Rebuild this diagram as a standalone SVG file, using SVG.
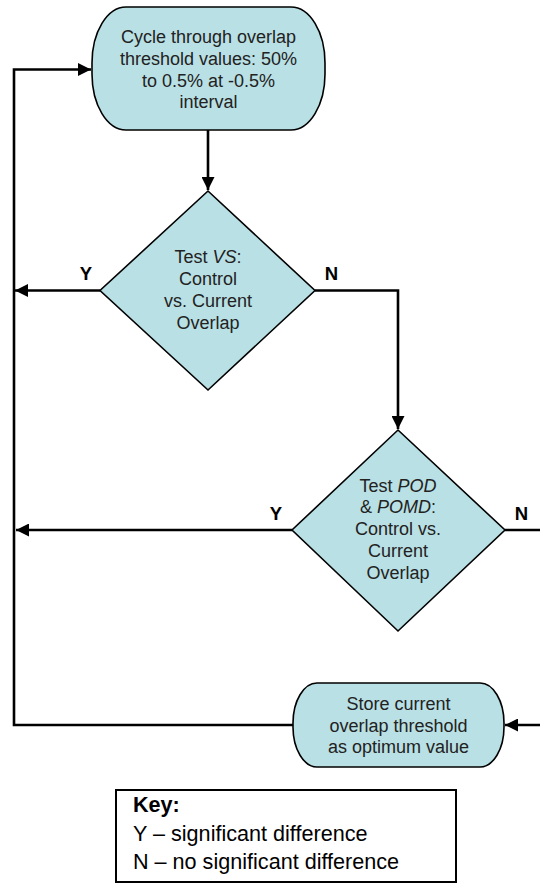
<svg xmlns="http://www.w3.org/2000/svg" width="540" height="884" viewBox="0 0 540 884">
<style>
.node{fill:#B9E0E4;stroke:#000;stroke-width:1.6}
.t{font-family:"Liberation Sans",Arial,sans-serif;font-size:18px;fill:#222;text-anchor:middle}
.lbl{font-family:"Liberation Sans",Arial,sans-serif;font-size:18.5px;font-weight:bold;fill:#000;text-anchor:middle}
.key{font-family:"Liberation Sans",Arial,sans-serif;font-size:21.6px;fill:#000}
.c{fill:none;stroke:#000;stroke-width:2.6}
</style>
<defs>
<marker id="ah" markerUnits="userSpaceOnUse" markerWidth="14" markerHeight="13" refX="13" refY="6.5" orient="auto">
<path d="M0,0 L13,6.5 L0,13 z" fill="#000"/>
</marker>
</defs>
<rect width="540" height="884" fill="#fff"/>
<g id="connectors">
<path class="c" d="M293,725 H14 V69.5 H91" marker-end="url(#ah)"/>
<path class="c" d="M208,130 V190" marker-end="url(#ah)"/>
<path class="c" d="M100,290.5 H15" marker-end="url(#ah)"/>
<path class="c" d="M315,290.5 H398 V429" marker-end="url(#ah)"/>
<path class="c" d="M292,530 H16" marker-end="url(#ah)"/>
<path class="c" d="M505,530 H541"/>
<path class="c" d="M541,725 H505" marker-end="url(#ah)"/>
</g>
<g id="start">
<rect class="node" x="92" y="7" width="233" height="123" rx="34" ry="56"/>
<text class="t" x="208.5" y="43">Cycle through overlap</text>
<text class="t" x="208.5" y="65">threshold values: 50%</text>
<text class="t" x="208.5" y="87">to 0.5% at -0.5%</text>
<text class="t" x="208.5" y="108">interval</text>
</g>
<g id="testVS">
<path class="node" d="M208,191 L315,290.5 L208,390 L100,290.5 Z"/>
<text class="t" x="208" y="263">Test <tspan font-style="italic">VS</tspan>:</text>
<text class="t" x="208" y="285">Control</text>
<text class="t" x="208" y="307">vs. Current</text>
<text class="t" x="208" y="329">Overlap</text>
<text class="lbl" x="86" y="280">Y</text>
<text class="lbl" x="331.5" y="280">N</text>
</g>
<g id="testPOD">
<path class="node" d="M398,430 L505,530 L398,631 L292,530 Z"/>
<text class="t" x="398" y="492">Test <tspan font-style="italic">POD</tspan></text>
<text class="t" x="398" y="513">&amp; <tspan font-style="italic">POMD</tspan>:</text>
<text class="t" x="398" y="535">Control vs.</text>
<text class="t" x="398" y="557">Current</text>
<text class="t" x="398" y="579">Overlap</text>
<text class="lbl" x="276" y="520">Y</text>
<text class="lbl" x="521.5" y="520">N</text>
</g>
<g id="store">
<rect class="node" x="293" y="683" width="211" height="84" rx="24" ry="40"/>
<text class="t" x="398.5" y="710">Store current</text>
<text class="t" x="398.5" y="732">overlap threshold</text>
<text class="t" x="398.5" y="753">as optimum value</text>
</g>
<g id="key">
<rect x="116" y="790" width="340" height="92" fill="#fff" stroke="#000" stroke-width="2"/>
<text class="key" x="133" y="812" font-weight="bold">Key:</text>
<text class="key" x="133" y="841">Y – significant difference</text>
<text class="key" x="133" y="869">N – no significant difference</text>
</g>
</svg>
